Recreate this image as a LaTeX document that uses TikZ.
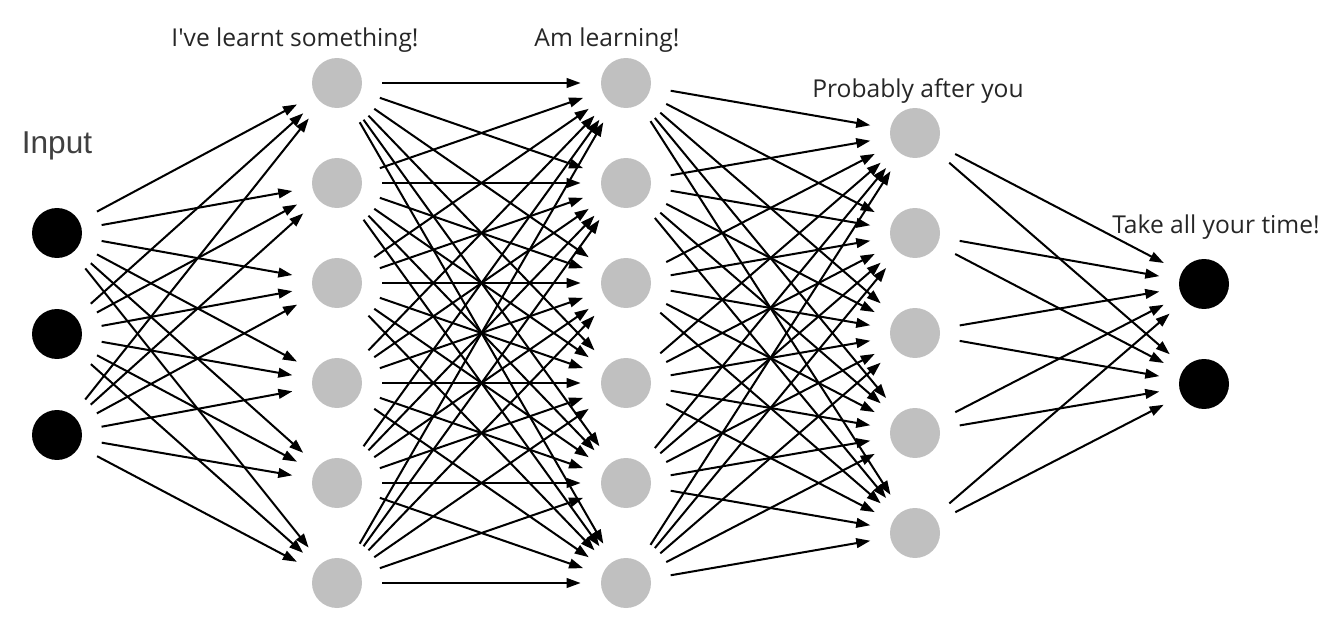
\documentclass[tikz,border=0pt]{standalone}
\usepackage{fontspec}
\setmainfont{Open Sans}
\newfontfamily\inputfont{Liberation Sans}
\usetikzlibrary{arrows.meta}
\definecolor{nodegray}{RGB}{192,192,192}
\tikzset{
  neuron/.style={circle, minimum size=1cm, inner sep=0pt},
  hidden/.style={neuron, fill=nodegray},
  outer/.style={neuron, fill=black},
  link/.style={-{Stealth[length=8pt,width=5.5pt,inset=0pt]}, line width=1.15pt,
    shorten <=0.4cm, shorten >=0.4cm},
  layerlabel/.style={anchor=base, inner sep=0pt, font=\fontsize{14pt}{16pt}\selectfont, text=black!85}
}
\begin{document}
\begin{tikzpicture}[x=0.02cm, y=-0.02cm]
        \useasboundingbox (0,0) rectangle (1336,632);
        % Input layer
        \node[outer] (i1) at (57,233) {};
        \node[outer] (i2) at (57,334) {};
        \node[outer] (i3) at (57,435) {};
        \node[anchor=base, inner sep=0pt, font=\inputfont\fontsize{18pt}{20pt}\selectfont, text=black!75] (inlabel) at (57,153) {Input};
        % First hidden layer
        \foreach \k in {1,...,6}
            \node[hidden] (a\k) at (337,{83+100*(\k-1)}) {};
        \node[layerlabel] (alabel) at (295,47) {I\textquotesingle ve learnt something!};
        % Second hidden layer
        \foreach \k in {1,...,6}
            \node[hidden] (b\k) at (626,{83+100*(\k-1)}) {};
        \node[layerlabel] (blabel) at (607,47) {Am learning!};
        % Third hidden layer
        \foreach \k in {1,...,5}
            \node[hidden] (c\k) at (915,{133+100*(\k-1)}) {};
        \node[layerlabel] (clabel) at (918,97) {Probably after you};
        % Output layer
        \node[outer] (o1) at (1204,284) {};
        \node[outer] (o2) at (1204,384) {};
        \node[layerlabel] (olabel) at (1216,233) {Take all your time!};
        % Connections
        \foreach \s in {1,...,3}
            \foreach \t in {1,...,6}
                \draw[link] (i\s) -- (a\t);
        \foreach \s in {1,...,6}
            \foreach \t in {1,...,6}
                \draw[link] (a\s) -- (b\t);
        \foreach \s in {1,...,6}
            \foreach \t in {1,...,5}
                \draw[link] (b\s) -- (c\t);
        \foreach \s in {1,...,5}
            \foreach \t in {1,2}
                \draw[link] (c\s) -- (o\t);
\end{tikzpicture}
\end{document}
